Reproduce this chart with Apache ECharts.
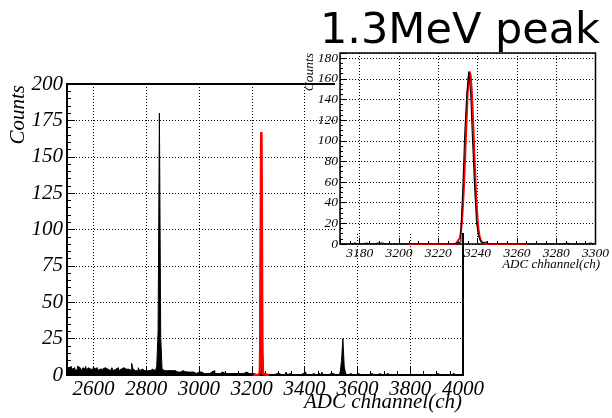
<!DOCTYPE html>
<html>
<head>
<meta charset="utf-8">
<script src="https://cdn.jsdelivr.net/npm/echarts@6/dist/echarts.min.js"></script>
<style>
  html, body { margin: 0; padding: 0; background: #fff; }
  #chart { width: 612px; height: 418px; }
</style>
</head>
<body>
<div id="chart"></div>
<script>
// full spectrum, 5-channel bins from 2500
const mainStart = 2500
const mainBinWidth = 5
const mainCounts = [
  4, 5, 3, 6, 4, 5, 3, 4, 6, 5, 4, 3, 5, 4, 6, 3, 5, 4, 5, 4,
  6, 4, 5, 3, 4, 5, 4, 3, 5, 4, 4, 5, 3, 4, 5, 3, 4, 4, 5, 3,
  4, 3, 5, 4, 4, 3, 4, 5, 3, 8, 4, 3, 4, 3, 5, 3, 4, 3, 3, 4,
  3, 4, 3, 3, 4, 3, 3, 4, 6, 30, 180, 26, 4, 3, 2, 3, 2, 3, 2, 3,
  2, 3, 2, 2, 3, 2, 1, 3, 2, 2, 3, 2, 1, 2, 3, 2, 2, 1, 2, 2,
  1, 2, 1, 1, 2, 1, 2, 1, 1, 2, 1, 3, 1, 1, 2, 1, 1, 2, 1, 1,
  1, 1, 2, 1, 1, 1, 2, 1, 1, 1, 2, 1, 1, 1, 1, 2, 1, 1, 1, 1,
  1, 1, 1, 0, 1, 0, 12, 167, 18, 1, 0, 1, 0, 1, 0, 1, 0, 0, 1, 0,
  1, 0, 0, 1, 0, 0, 2, 0, 1, 0, 0, 1, 0, 0, 0, 1, 0, 0, 1, 0,
  2, 0, 0, 1, 0, 0, 1, 0, 0, 0, 1, 0, 0, 2, 0, 0, 1, 0, 0, 1,
  0, 1, 0, 0, 1, 0, 0, 2, 10, 25, 6, 1, 0, 0, 1, 0, 0, 1, 0, 0,
  1, 0, 0, 0, 0, 1, 0, 0, 0, 0, 1, 0, 0, 0, 0, 0, 1, 0, 0, 0,
  0, 0, 1, 0, 0, 0, 0, 0, 0, 1, 0, 0, 0, 0, 0, 1, 0, 0, 0, 0,
  0, 1, 0, 0, 0, 0, 0, 1, 0, 0, 0, 0, 0, 1, 0, 0, 0, 0, 0, 0,
  1, 0, 0, 0, 0, 1, 0, 0, 0, 0, 0, 0, 1, 0, 0, 0, 0, 1, 0, 0
]

// zoomed spectrum, 1 channel bins from 3170
const insetStart = 3170
const insetCounts = [
  0, 0, 0, 0, 0, 0, 0, 1, 0, 0,
  1, 0, 0, 1, 0, 0, 1, 0, 0, 1,
  0, 1, 0, 0, 0, 0, 1, 0, 0, 0,
  0, 0, 1, 0, 0, 0, 0, 0, 1, 0,
  0, 0, 0, 0, 1, 0, 0, 0, 0, 0,
  0, 0, 0, 0, 0, 0, 0, 0, 1, 1,
  1, 2, 12, 55, 108, 145, 167, 145, 98, 55,
  20, 8, 3, 1, 2, 1, 0, 0, 0, 0,
  0, 0, 0, 0, 0, 0, 1, 0, 0, 0,
  0, 0, 0, 0, 0, 0, 0, 0, 0, 0,
  1, 0, 0, 0, 0, 0, 0, 0, 0, 0,
  0, 0, 0, 0, 0, 1, 0, 0, 0, 0,
  1, 0, 0, 0, 0, 0, 0, 1, 0, 0
]

// gaussian fit of the 1.3MeV peak
const fitX = [3205, 3225, 3229, 3230, 3231, 3231.5, 3232, 3232.5, 3233, 3233.5, 3234, 3234.5,
  3235, 3235.5, 3236, 3236.5, 3237, 3237.5, 3238, 3238.5, 3239, 3239.5, 3240, 3240.5,
  3241, 3241.5, 3242, 3243, 3244, 3265]
const fitY = [0, 0, 0.3, 1.5, 6, 12, 21, 35, 53, 76, 100, 125,
  147, 161, 167, 163, 150, 130, 106, 81, 58, 39, 24, 14,
  8, 4, 2, 0.5, 0, 0]

const mainXTitle = 'ADC chhannel(ch)'
const yTitle = 'Counts'
const insetTitle = '1.3MeV peak'

const serif = '"Liberation Serif", "DejaVu Serif", serif'

const histPoints = (start, width, counts) => {
  const pts = counts.map((v, i) => [start + i * width, v])
  pts.push([start + counts.length * width, counts[counts.length - 1]])
  return pts
}

const fitPoints = fitX.map((x, i) => [x, fitY[i]])

const plain = v => String(v)

const gridLine = { show: true, lineStyle: { color: '#000', width: 1, type: [1, 2] } }

const chart = echarts.init(document.getElementById('chart'))

chart.setOption({
  animation: false,
  backgroundColor: '#fff',
  grid: [
    { left: 67, top: 84, width: 396, height: 291, show: true, borderColor: '#000', borderWidth: 2, z: 0 },
    { left: 340, top: 53, width: 260, height: 191, show: true, borderColor: '#000', borderWidth: 1.5, z: 60 }
  ],
  xAxis: [
    {
      gridIndex: 0,
      type: 'value',
      min: 2500,
      max: 4000,
      splitNumber: 7,
      axisLine: { show: false },
      axisTick: { inside: true, length: 8, lineStyle: { color: '#000' } },
      minorTick: { show: true, splitNumber: 4, length: 4, lineStyle: { color: '#000' } },
      axisLabel: { showMinLabel: false, formatter: plain, color: '#000', fontFamily: serif, fontStyle: 'italic', fontSize: 21, margin: 4 },
      splitLine: gridLine
    },
    {
      gridIndex: 1,
      type: 'value',
      min: 3170,
      max: 3300,
      splitNumber: 6,
      z: 61,
      axisLine: { show: false },
      axisTick: { inside: true, length: 6, lineStyle: { color: '#000' } },
      minorTick: { show: true, splitNumber: 4, length: 3, lineStyle: { color: '#000' } },
      axisLabel: { showMinLabel: false, formatter: plain, color: '#000', fontFamily: serif, fontStyle: 'italic', fontSize: 13.5, margin: 2 },
      splitLine: gridLine
    }
  ],
  yAxis: [
    {
      gridIndex: 0,
      type: 'value',
      min: 0,
      max: 200,
      interval: 25,
      axisLine: { show: false },
      axisTick: { inside: true, length: 8, lineStyle: { color: '#000' } },
      minorTick: { show: true, splitNumber: 5, length: 4, lineStyle: { color: '#000' } },
      axisLabel: { color: '#000', fontFamily: serif, fontStyle: 'italic', fontSize: 21, margin: 4 },
      splitLine: gridLine
    },
    {
      gridIndex: 1,
      type: 'value',
      min: 0,
      max: 185,
      interval: 20,
      z: 61,
      axisLine: { show: false },
      axisTick: { inside: true, length: 6, lineStyle: { color: '#000' } },
      minorTick: { show: true, splitNumber: 4, length: 3, lineStyle: { color: '#000' } },
      axisLabel: { showMaxLabel: false, color: '#000', fontFamily: serif, fontStyle: 'italic', fontSize: 13.5, margin: 2 },
      splitLine: gridLine
    }
  ],
  series: [
    {
      type: 'line',
      xAxisIndex: 0,
      yAxisIndex: 0,
      step: 'end',
      symbol: 'none',
      data: histPoints(mainStart, mainBinWidth, mainCounts),
      lineStyle: { color: '#000', width: 1 },
      areaStyle: { color: '#000', opacity: 1 },
      z: 2
    },
    {
      type: 'line',
      xAxisIndex: 0,
      yAxisIndex: 0,
      symbol: 'none',
      data: fitPoints,
      lineStyle: { color: '#ff0000', width: 2.5 },
      z: 3
    },
    {
      type: 'line',
      xAxisIndex: 1,
      yAxisIndex: 1,
      symbol: 'none',
      data: fitPoints,
      lineStyle: { color: '#ff0000', width: 2 },
      z: 62
    },
    {
      type: 'line',
      xAxisIndex: 1,
      yAxisIndex: 1,
      step: 'end',
      symbol: 'none',
      data: histPoints(insetStart - 0.5, 1, insetCounts),
      lineStyle: { color: '#000', width: 1.1 },
      z: 63
    }
  ],
  graphic: [
    // the inset pad hides this corner of the big frame
    { type: 'rect', z: 50, shape: { x: 335, y: 0, width: 277, height: 233 }, style: { fill: '#fff' } },
    { type: 'text', z: 70, x: 18, y: 85, rotation: Math.PI / 2,
      style: { text: yTitle, font: 'italic 21px ' + serif, fill: '#000', align: 'right', verticalAlign: 'middle' } },
    { type: 'text', z: 70, x: 462, y: 402,
      style: { text: mainXTitle, font: 'italic 21px ' + serif, fill: '#000', align: 'right', verticalAlign: 'middle' } },
    { type: 'text', z: 70, x: 309, y: 53, rotation: Math.PI / 2,
      style: { text: yTitle, font: 'italic 13.5px ' + serif, fill: '#000', align: 'right', verticalAlign: 'middle' } },
    { type: 'text', z: 70, x: 600, y: 265,
      style: { text: mainXTitle, font: 'italic 13px ' + serif, fill: '#000', align: 'right', verticalAlign: 'middle' } },
    { type: 'text', z: 70, x: 460, y: 32,
      style: { text: insetTitle, font: '43px "DejaVu Sans", sans-serif', fill: '#000', align: 'center', verticalAlign: 'middle' } }
  ]
})

window.addEventListener('resize', () => chart.resize())
</script>
</body>
</html>
